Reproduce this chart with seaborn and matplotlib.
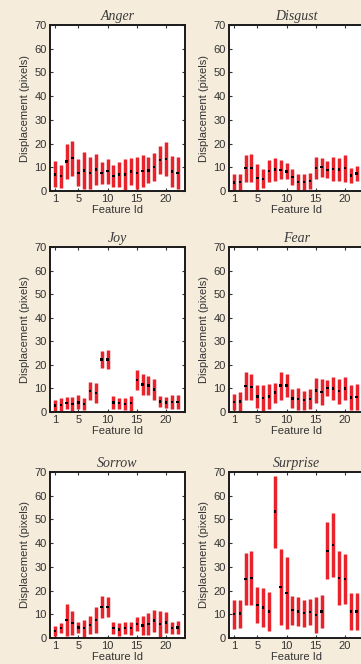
import numpy as np
import pandas as pd
import matplotlib
matplotlib.use("Agg")
import matplotlib.pyplot as plt
import seaborn as sns

features = list(range(1, 23))
emotions = ["Anger", "Disgust", "Joy", "Fear", "Sorrow", "Surprise"]

anger_mean = [7.0, 6.2, 12.4, 13.8, 7.7, 8.7, 7.6, 9.1, 7.7, 8.4, 6.3, 7.0, 7.0, 8.2, 7.6, 8.4, 8.7, 10.0, 13.0, 13.6, 8.2, 7.6]
anger_err = [5.5, 4.8, 7.4, 7.3, 5.8, 7.7, 6.9, 6.4, 4.7, 5.3, 4.8, 5.2, 6.4, 5.7, 6.6, 6.8, 5.5, 5.9, 5.9, 7.1, 6.4, 6.8]

disgust_mean = [3.6, 3.7, 9.6, 9.6, 5.6, 5.1, 8.4, 9.0, 8.9, 8.3, 5.9, 3.9, 3.9, 4.2, 9.6, 10.0, 8.9, 9.3, 9.0, 9.6, 6.6, 7.3]
disgust_err = [3.4, 3.6, 5.6, 5.9, 5.9, 4.0, 4.7, 4.9, 4.0, 3.3, 3.3, 3.3, 3.3, 3.3, 4.7, 4.0, 3.6, 5.0, 4.9, 5.6, 3.3, 3.1]

joy_mean = [2.7, 3.0, 3.8, 3.5, 4.1, 3.3, 8.9, 8.1, 22.2, 22.3, 4.1, 3.7, 3.3, 3.7, 13.6, 11.7, 11.2, 9.6, 4.4, 4.0, 4.2, 4.2]
joy_err = [2.5, 2.9, 2.6, 3.0, 3.0, 2.6, 3.8, 4.1, 3.5, 4.0, 2.7, 2.4, 2.5, 3.1, 4.3, 4.4, 3.9, 4.5, 2.4, 2.3, 2.9, 2.9]

fear_mean = [4.2, 4.5, 11.0, 10.7, 6.6, 5.9, 6.6, 8.2, 11.2, 11.2, 5.8, 5.5, 5.0, 5.5, 9.2, 8.5, 10.2, 10.0, 8.8, 10.0, 6.1, 6.4]
fear_err = [3.3, 4.1, 6.0, 5.5, 5.0, 5.4, 5.2, 4.3, 5.9, 5.0, 4.1, 4.6, 4.1, 4.4, 5.3, 5.4, 3.2, 4.8, 5.3, 4.9, 5.3, 5.5]

sorrow_mean = [3.0, 4.2, 7.5, 6.3, 4.5, 4.1, 5.5, 7.7, 13.1, 13.0, 4.1, 3.5, 4.1, 4.1, 5.9, 5.2, 5.9, 7.3, 5.9, 6.5, 4.1, 4.4]
sorrow_err = [2.1, 2.2, 6.8, 5.2, 2.3, 3.5, 3.8, 5.4, 4.6, 4.2, 2.6, 2.7, 2.6, 2.8, 2.8, 4.0, 4.7, 4.7, 5.4, 4.3, 2.6, 2.6]

surprise_mean = [10.0, 10.3, 25.0, 25.4, 13.9, 12.8, 11.2, 53.3, 21.4, 19.0, 11.7, 11.1, 10.5, 11.0, 9.8, 11.2, 36.8, 39.1, 25.2, 25.0, 11.2, 11.2]
surprise_err = [6.1, 5.9, 10.9, 11.3, 7.6, 8.2, 8.2, 15.2, 16.1, 15.3, 6.2, 6.0, 5.7, 5.4, 7.7, 7.0, 12.0, 13.5, 11.3, 10.5, 7.7, 7.7]

y_ticks = [0, 10, 20, 30, 40, 50, 60, 70]
x_ticks = [1, 5, 10, 15, 20]

means = [anger_mean, disgust_mean, joy_mean, fear_mean, sorrow_mean, surprise_mean]
errs = [anger_err, disgust_err, joy_err, fear_err, sorrow_err, surprise_err]

frames = []
for emo, m, e in zip(emotions, means, errs):
    frames.append(pd.DataFrame({"emotion": emo, "feature": features,
                                "mean": m, "err": e}))
df = pd.concat(frames, ignore_index=True)
df["lo"] = df["mean"] - df["err"]
df["hi"] = df["mean"] + df["err"]

sns.set_theme(style="ticks")
plt.rcParams["font.family"] = ["Liberation Sans", "DejaVu Sans"]

BG = "#f5ecdb"
RED = "#e8232b"
W, H = 361, 664
fig = plt.figure(figsize=(W / 100, H / 100), dpi=100, facecolor=BG)

cols_px = [(50, 134.6), (229, 134.6)]
rows_px = [(25, 191), (247, 412), (472, 638)]

for i, emo in enumerate(emotions):
    r, c = divmod(i, 2)
    x0, wpx = cols_px[c]
    top, bot = rows_px[r]
    ax = fig.add_axes([x0 / W, 1 - bot / H, wpx / W, (bot - top) / H])
    ax.set_facecolor("white")
    sub = df[df["emotion"] == emo]
    ax.vlines(sub["feature"], sub["lo"], sub["hi"], color=RED, lw=2.5, zorder=2)
    sns.scatterplot(data=sub, x="feature", y="mean", ax=ax, color="#000000",
                    marker="s", s=3, linewidth=0, edgecolor="none",
                    zorder=3, legend=False)
    ax.set_xlim(0.15, 23.2)
    ax.set_ylim(0, 70)
    ax.set_xticks(x_ticks)
    ax.set_yticks(y_ticks)
    ax.tick_params(direction="in", length=2.5, width=0.8, color="#333333",
                   labelsize=8, labelcolor="#333333", top=True, right=True, pad=2.5)
    for s in ax.spines.values():
        s.set_linewidth(1.4)
        s.set_color("#1a1a1a")
    ax.set_xlabel("Feature Id", fontsize=8, color="#333333", labelpad=0.5)
    ax.set_ylabel("Displacement (pixels)", fontsize=8, color="#333333", labelpad=3)
    ax.set_title(emo, fontsize=10, fontstyle="italic", color="#3a3a3a",
                 family=["Liberation Serif", "DejaVu Serif"], pad=3.5)

fig.savefig("out.png", dpi=100, facecolor=BG)
